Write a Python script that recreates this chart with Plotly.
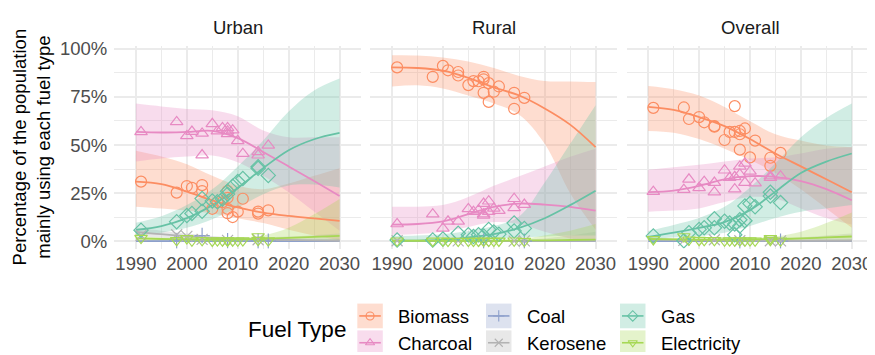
import plotly.graph_objects as go

FONT = "Liberation Sans"

panels = ["Urban", "Rural", "Overall"]
fuels = ["Biomass", "Charcoal", "Coal", "Kerosene", "Gas", "Electricity"]
fuel_colors = ["#FC8D62", "#E78AC3", "#8DA0CB", "#B3B3B3", "#66C2A5", "#A6D854"]
fuel_symbols = ["circle-open", "triangle-up-open", "cross-thin", "x-thin",
                "diamond-open", "triangle-down-open"]

x_ticks = [1990, 2000, 2010, 2020, 2030]
x_minor = [1995, 2005, 2015, 2025]
y_ticks = [0, 25, 50, 75, 100]
y_ticklabels = ["0%", "25%", "50%", "75%", "100%"]
y_minor = [12.5, 37.5, 62.5, 87.5]

fit_years = [1990, 1995, 2000, 2005, 2010, 2015, 2020, 2025, 2030]

# ---------------- Urban ----------------
u_bio_yr = [1991, 1998, 2000, 2001, 2003, 2003, 2005, 2006, 2007, 2008, 2008, 2008, 2008, 2009, 2010, 2011, 2014, 2014, 2016]
u_bio = [31.0, 25.3, 28.7, 27.8, 29.2, 26.1, 16.9, 20.3, 20.3, 26.1, 22.6, 16.9, 14.6, 12.6, 15.4, 22.1, 15.4, 14.4, 16.1]
u_char_yr = [1991, 1998, 2000, 2001, 2003, 2003, 2005, 2006, 2007, 2008, 2008, 2008, 2009, 2010, 2011, 2014, 2014, 2016]
u_char = [56.8, 62.0, 54.7, 57.0, 56.0, 44.8, 61.0, 57.2, 58.9, 58.9, 57.2, 55.8, 57.7, 52.2, 45.5, 46.4, 44.7, 49.8]
u_coal_yr = [1998, 2003, 2008, 2014, 2016]
u_coal = [0.2, 3.0, 0.3, 0.2, 0.1]
u_ker_yr = [1991, 1998, 2000, 2003, 2008, 2014]
u_ker = [3.0, 3.4, 2.6, 1.0, 0.5, 0.8]
u_gas_yr = [1991, 1998, 2000, 2001, 2003, 2003, 2005, 2006, 2007, 2008, 2008, 2009, 2010, 2011, 2014, 2014, 2016]
u_gas = [5.8, 10.2, 13.4, 14.5, 15.6, 22.2, 21.0, 20.5, 22.0, 24.5, 26.0, 28.6, 31.0, 32.6, 38.7, 37.9, 34.2]
u_elec_yr = [1991, 1998, 2000, 2001, 2003, 2005, 2006, 2007, 2008, 2008, 2009, 2010, 2011, 2014, 2014, 2016]
u_elec = [1.7, 0.5, 1.5, 0.3, 0.5, 0.2, 0.4, 0.3, 0.5, 0.2, 0.3, 0.3, 0.4, 2.5, 0.6, 0.4]

u_bio_fit = [31.0, 29.7, 25.8, 21.3, 17.6, 14.9, 13.2, 11.9, 10.6]
u_bio_lo = [18.0, 17.0, 16.0, 14.5, 12.0, 9.5, 6.0, 3.0, 0.5]
u_bio_hi = [47.0, 44.0, 40.0, 34.0, 29.0, 27.0, 30.0, 34.0, 38.0]
u_char_fit = [56.8, 56.5, 56.8, 57.3, 53.6, 46.4, 38.9, 31.3, 23.5]
u_char_lo = [41.5, 43.0, 44.0, 44.5, 41.0, 34.0, 25.5, 15.5, 5.5]
u_char_hi = [71.5, 70.0, 68.7, 68.0, 65.0, 57.5, 54.0, 54.0, 54.0]
u_coal_fit = [0.1, 0.1, 0.1, 0.1, 0.1, 0.1, 0.1, 0.1, 0.1]
u_coal_lo = [0.0, 0.0, 0.0, 0.0, 0.0, 0.0, 0.0, 0.0, 0.0]
u_coal_hi = [0.6, 0.5, 0.5, 0.5, 0.5, 0.6, 0.8, 1.0, 1.3]
u_ker_fit = [4.9, 3.7, 2.7, 1.8, 1.2, 0.9, 0.7, 0.5, 0.3]
u_ker_lo = [2.8, 2.0, 1.4, 0.8, 0.5, 0.2, 0.0, 0.0, 0.0]
u_ker_hi = [7.0, 5.5, 4.0, 2.8, 2.0, 2.0, 2.5, 3.2, 4.0]
u_gas_fit = [5.9, 7.9, 12.0, 18.8, 27.7, 38.0, 47.3, 53.0, 56.3]
u_gas_lo = [3.0, 4.5, 7.0, 11.5, 17.5, 24.5, 29.0, 29.5, 28.0]
u_gas_hi = [9.6, 13.0, 18.8, 27.0, 38.9, 52.3, 67.4, 78.3, 84.5]
u_elec_fit = [1.5, 1.2, 1.0, 0.9, 1.0, 1.3, 1.8, 2.3, 2.8]
u_elec_lo = [0.6, 0.5, 0.4, 0.4, 0.4, 0.3, 0.2, 0.1, 0.0]
u_elec_hi = [2.6, 2.0, 1.8, 1.6, 1.8, 3.0, 7.0, 14.0, 22.0]

# ---------------- Rural ----------------
r_bio_yr = [1991, 1998, 2000, 2001, 2003, 2003, 2005, 2006, 2007, 2008, 2008, 2008, 2009, 2009, 2010, 2011, 2014, 2014, 2016]
r_bio = [90.3, 85.4, 91.1, 88.8, 87.9, 86.1, 81.1, 83.2, 83.1, 85.4, 84.1, 77.1, 82.1, 72.4, 77.7, 80.4, 77.1, 68.8, 74.5]
r_char_yr = [1991, 1998, 2000, 2001, 2003, 2005, 2006, 2007, 2008, 2008, 2008, 2009, 2009, 2010, 2011, 2014, 2014, 2016]
r_char = [9.0, 14.1, 6.7, 10.4, 10.4, 16.8, 15.4, 16.2, 19.6, 14.1, 13.4, 20.8, 15.4, 17.1, 15.9, 22.1, 17.4, 19.1]
r_coal_yr = [2008, 2016]
r_coal = [0.1, 0.1]
r_ker_yr = [1991, 2003, 2008, 2014, 2016]
r_ker = [0.3, 0.2, 0.1, 0.1, 0.2]
r_gas_yr = [1991, 1998, 2000, 2003, 2005, 2006, 2007, 2008, 2009, 2010, 2011, 2014, 2014, 2016]
r_gas = [0.7, 0.7, 1.2, 4.2, 3.4, 2.5, 3.4, 2.8, 6.2, 4.9, 3.7, 9.5, 5.4, 6.7]
r_elec_yr = [1991, 1998, 2000, 2001, 2003, 2005, 2006, 2007, 2008, 2009, 2010, 2011, 2014, 2016]
r_elec = [0.3, 0.2, 0.3, 0.1, 0.1, 0.1, 0.1, 0.1, 0.2, 0.1, 0.1, 0.2, 0.3, 0.1]

r_bio_fit = [90.3, 90.0, 88.6, 84.9, 79.9, 75.7, 69.0, 60.6, 48.9]
r_bio_lo = [80.4, 81.0, 79.4, 75.7, 71.5, 65.7, 50.6, 25.0, 6.0]
r_bio_hi = [96.6, 96.5, 95.5, 93.3, 90.0, 85.8, 83.2, 83.0, 82.7]
r_char_fit = [8.7, 9.0, 10.4, 14.1, 17.9, 19.6, 19.1, 17.9, 15.9]
r_char_lo = [3.4, 3.8, 5.0, 7.5, 10.0, 9.0, 5.0, 1.5, 0.0]
r_char_hi = [17.9, 18.0, 18.8, 23.0, 28.8, 33.8, 38.9, 43.9, 48.1]
r_coal_fit = [0.1, 0.1, 0.1, 0.1, 0.1, 0.1, 0.1, 0.1, 0.1]
r_coal_lo = [0.0, 0.0, 0.0, 0.0, 0.0, 0.0, 0.0, 0.0, 0.0]
r_coal_hi = [0.3, 0.3, 0.3, 0.3, 0.3, 0.4, 0.6, 0.9, 1.2]
r_ker_fit = [0.2, 0.2, 0.2, 0.2, 0.2, 0.2, 0.2, 0.2, 0.2]
r_ker_lo = [0.0, 0.0, 0.0, 0.0, 0.0, 0.0, 0.0, 0.0, 0.0]
r_ker_hi = [0.5, 0.4, 0.4, 0.4, 0.5, 0.8, 1.5, 3.0, 5.0]
r_gas_fit = [0.3, 0.4, 0.7, 2.0, 3.7, 7.0, 12.0, 18.8, 26.3]
r_gas_lo = [0.0, 0.0, 0.0, 0.3, 1.0, 2.0, 2.5, 3.0, 3.0]
r_gas_hi = [2.8, 3.0, 3.7, 5.4, 7.9, 12.9, 30.5, 50.6, 70.7]
r_elec_fit = [0.3, 0.3, 0.3, 0.3, 0.3, 0.4, 0.5, 0.7, 0.9]
r_elec_lo = [0.0, 0.0, 0.0, 0.0, 0.0, 0.0, 0.0, 0.0, 0.0]
r_elec_hi = [0.8, 0.7, 0.7, 0.7, 0.8, 1.2, 3.0, 5.5, 9.0]

# ---------------- Overall ----------------
o_bio_yr = [1991, 1997, 1998, 2000, 2001, 2003, 2003, 2005, 2006, 2007, 2007, 2008, 2008, 2008, 2009, 2010, 2011, 2014, 2014, 2016]
o_bio = [69.3, 69.5, 63.5, 64.5, 61.8, 59.8, 59.5, 52.6, 56.8, 70.2, 56.8, 57.3, 55.6, 47.6, 58.6, 43.6, 52.3, 43.4, 39.2, 45.9]
o_char_yr = [1991, 1997, 1998, 2000, 2001, 2003, 2003, 2005, 2006, 2007, 2007, 2008, 2008, 2009, 2009, 2010, 2011, 2014, 2014, 2016]
o_char = [25.8, 26.8, 32.2, 27.8, 31.0, 30.5, 25.5, 36.9, 33.0, 27.1, 33.5, 38.9, 34.7, 40.5, 30.5, 36.3, 30.2, 33.8, 33.0, 33.8]
o_coal_yr = [2008, 2016]
o_coal = [0.1, 0.1]
o_ker_yr = [1997, 2003, 2008, 2014, 2016]
o_ker = [0.5, 0.8, 0.3, 0.3, 0.2]
o_gas_yr = [1991, 1997, 1998, 2000, 2001, 2003, 2003, 2005, 2006, 2007, 2007, 2008, 2008, 2009, 2009, 2010, 2011, 2014, 2014, 2016]
o_gas = [2.8, 0.3, 4.5, 6.2, 7.0, 11.7, 7.0, 10.4, 9.5, 3.4, 9.0, 11.2, 8.0, 18.4, 10.7, 19.6, 17.9, 25.5, 23.5, 20.1]
o_elec_yr = [1991, 1997, 1998, 2000, 2001, 2003, 2005, 2006, 2007, 2008, 2009, 2010, 2011, 2014, 2014, 2016]
o_elec = [1.0, 2.5, 0.8, 0.6, 0.5, 0.5, 0.3, 0.4, 0.3, 0.4, 0.3, 0.4, 0.3, 1.5, 0.6, 0.3]

o_bio_fit = [69.8, 68.2, 64.5, 59.8, 53.1, 45.6, 38.9, 32.2, 25.5]
o_bio_lo = [57.3, 56.4, 53.1, 48.1, 42.2, 35.5, 27.1, 17.1, 7.0]
o_bio_hi = [80.7, 79.0, 75.7, 69.8, 62.3, 55.6, 52.3, 49.7, 48.9]
o_char_fit = [25.5, 26.3, 28.8, 32.2, 33.8, 33.5, 31.3, 27.1, 21.3]
o_char_lo = [15.4, 16.0, 17.1, 20.4, 23.0, 22.1, 17.1, 12.1, 8.7]
o_char_hi = [37.2, 38.5, 39.7, 41.4, 43.0, 43.6, 45.6, 48.1, 48.9]
o_coal_fit = [0.1, 0.1, 0.1, 0.1, 0.1, 0.1, 0.1, 0.1, 0.1]
o_coal_lo = [0.0, 0.0, 0.0, 0.0, 0.0, 0.0, 0.0, 0.0, 0.0]
o_coal_hi = [0.4, 0.3, 0.3, 0.3, 0.3, 0.4, 0.6, 0.9, 1.2]
o_ker_fit = [1.0, 0.8, 0.6, 0.5, 0.4, 0.3, 0.3, 0.3, 0.3]
o_ker_lo = [0.3, 0.2, 0.1, 0.1, 0.0, 0.0, 0.0, 0.0, 0.0]
o_ker_hi = [2.0, 1.5, 1.2, 1.0, 0.9, 1.2, 2.0, 3.0, 4.0]
o_gas_fit = [2.3, 4.5, 7.0, 10.0, 16.2, 25.8, 35.5, 41.4, 45.6]
o_gas_lo = [1.2, 2.0, 2.8, 4.5, 7.9, 12.1, 15.4, 17.0, 18.8]
o_gas_hi = [5.4, 8.5, 12.1, 17.9, 28.0, 40.5, 54.0, 64.0, 71.5]
o_elec_fit = [1.2, 1.0, 0.9, 0.9, 1.0, 1.2, 1.5, 2.0, 2.5]
o_elec_lo = [0.4, 0.4, 0.3, 0.3, 0.3, 0.3, 0.2, 0.1, 0.0]
o_elec_hi = [2.0, 1.7, 1.5, 1.5, 1.7, 2.5, 5.0, 9.5, 15.0]

data = {
    "Urban": [
        (u_bio_yr, u_bio, u_bio_fit, u_bio_lo, u_bio_hi),
        (u_char_yr, u_char, u_char_fit, u_char_lo, u_char_hi),
        (u_coal_yr, u_coal, u_coal_fit, u_coal_lo, u_coal_hi),
        (u_ker_yr, u_ker, u_ker_fit, u_ker_lo, u_ker_hi),
        (u_gas_yr, u_gas, u_gas_fit, u_gas_lo, u_gas_hi),
        (u_elec_yr, u_elec, u_elec_fit, u_elec_lo, u_elec_hi),
    ],
    "Rural": [
        (r_bio_yr, r_bio, r_bio_fit, r_bio_lo, r_bio_hi),
        (r_char_yr, r_char, r_char_fit, r_char_lo, r_char_hi),
        (r_coal_yr, r_coal, r_coal_fit, r_coal_lo, r_coal_hi),
        (r_ker_yr, r_ker, r_ker_fit, r_ker_lo, r_ker_hi),
        (r_gas_yr, r_gas, r_gas_fit, r_gas_lo, r_gas_hi),
        (r_elec_yr, r_elec, r_elec_fit, r_elec_lo, r_elec_hi),
    ],
    "Overall": [
        (o_bio_yr, o_bio, o_bio_fit, o_bio_lo, o_bio_hi),
        (o_char_yr, o_char, o_char_fit, o_char_lo, o_char_hi),
        (o_coal_yr, o_coal, o_coal_fit, o_coal_lo, o_coal_hi),
        (o_ker_yr, o_ker, o_ker_fit, o_ker_lo, o_ker_hi),
        (o_gas_yr, o_gas, o_gas_fit, o_gas_lo, o_gas_hi),
        (o_elec_yr, o_elec, o_elec_fit, o_elec_lo, o_elec_hi),
    ],
}


def rgba(hex_color, a):
    h = hex_color.lstrip("#")
    r, g, b = int(h[0:2], 16), int(h[2:4], 16), int(h[4:6], 16)
    return f"rgba({r},{g},{b},{a})"


# The page body has an 8px margin: the figure starts at page (8, 8).
OFF = 8
PAGE_W, PAGE_H = 875, 355
W, H = PAGE_W - OFF, PAGE_H - OFF


def px(x):  # page x -> paper fraction
    return (x - OFF) / W


def py(y):  # page y -> paper fraction
    return 1 - (y - OFF) / H


panel_px = [(114.3, 361.2), (370.4, 617.2), (626.6, 873.4)]
y_px = (39.3, 248.2)
x_range = [1985.75, 2034.25]
y_range = [-3.77, 101.25]

fig = go.Figure()

for pi, panel in enumerate(panels):
    xa = "x" if pi == 0 else f"x{pi + 1}"
    ya = "y" if pi == 0 else f"y{pi + 1}"
    series = data[panel]
    for fi, (yr, val, fit, lo, hi) in enumerate(series):
        c = fuel_colors[fi]
        fig.add_trace(go.Scatter(x=fit_years, y=lo, mode="lines",
                                 line=dict(width=0, shape="spline", color=c),
                                 xaxis=xa, yaxis=ya, showlegend=False, hoverinfo="skip"))
        fig.add_trace(go.Scatter(x=fit_years, y=hi, mode="lines", fill="tonexty",
                                 fillcolor=rgba(c, 0.3),
                                 line=dict(width=0, shape="spline", color=c),
                                 xaxis=xa, yaxis=ya, showlegend=False, hoverinfo="skip"))
    for fi, (yr, val, fit, lo, hi) in enumerate(series):
        c = fuel_colors[fi]
        fig.add_trace(go.Scatter(x=fit_years, y=fit, mode="lines",
                                 line=dict(width=1.8, shape="spline", color=c),
                                 xaxis=xa, yaxis=ya, showlegend=False))
    for fi, (yr, val, fit, lo, hi) in enumerate(series):
        c = fuel_colors[fi]
        fig.add_trace(go.Scatter(x=yr, y=val, mode="markers",
                                 marker=dict(symbol=fuel_symbols[fi], size=11, color=c,
                                             line=dict(width=1.2, color=c)),
                                 xaxis=xa, yaxis=ya, showlegend=False, name=fuels[fi]))

grid = "#EBEBEB"
tickfont = dict(family=FONT, size=18.5, color="#4D4D4D")
layout_axes = {}
for pi in range(3):
    x0, x1 = panel_px[pi]
    xname = "xaxis" if pi == 0 else f"xaxis{pi + 1}"
    yname = "yaxis" if pi == 0 else f"yaxis{pi + 1}"
    layout_axes[xname] = dict(
        domain=[px(x0), min(px(x1), 1.0)], range=x_range, tickvals=x_ticks,
        showgrid=True, gridcolor=grid, gridwidth=1.9, zeroline=False, showline=False,
        ticks="", tickfont=tickfont, ticklabelstandoff=2,
        anchor=("y" if pi == 0 else f"y{pi + 1}"),
        minor=dict(tickvals=x_minor, showgrid=True, gridcolor=grid, gridwidth=1.1, ticks=""),
        fixedrange=True,
    )
    layout_axes[yname] = dict(
        domain=[py(y_px[1]), py(y_px[0])], range=y_range, tickvals=y_ticks,
        ticktext=y_ticklabels, showticklabels=(pi == 0),
        showgrid=True, gridcolor=grid, gridwidth=1.9, zeroline=False, showline=False,
        ticks="", tickfont=tickfont, ticklabelstandoff=6,
        anchor=("x" if pi == 0 else f"x{pi + 1}"),
        minor=dict(tickvals=y_minor, showgrid=True, gridcolor=grid, gridwidth=1.1, ticks=""),
        fixedrange=True,
    )

# overlay axis in page-pixel coordinates for the legend keys
layout_axes["xaxis4"] = dict(domain=[0, 1], range=[OFF, PAGE_W], visible=False,
                             fixedrange=True, anchor="y4")
layout_axes["yaxis4"] = dict(domain=[0, 1], range=[PAGE_H, OFF], visible=False,
                             fixedrange=True, anchor="x4")

annotations = []
for pi, panel in enumerate(panels):
    cx = (panel_px[pi][0] + panel_px[pi][1]) / 2
    annotations.append(dict(text=panel, x=px(cx), y=py(20), xref="paper", yref="paper",
                            showarrow=False, xanchor="center", yanchor="middle",
                            font=dict(family=FONT, size=18.5, color="#1A1A1A")))

annotations.append(dict(text="Percentage of the population<br>mainly using each fuel type",
                        x=px(31), y=py(143.7), xref="paper", yref="paper", textangle=-90,
                        showarrow=False, xanchor="center", yanchor="middle",
                        font=dict(family=FONT, size=18.5, color="#000000")))

annotations.append(dict(text="Fuel Type", x=px(246.0), y=py(332), xref="paper", yref="paper",
                        showarrow=False, xanchor="left", yanchor="middle",
                        font=dict(family=FONT, size=22.5, color="#000000")))

legend_cols = [357.3, 486.0, 620.0]
legend_rows = [305.0, 332.7]
key_w = 25.5
shapes = []
for fi, fuel in enumerate(fuels):
    col, row = fi // 2, fi % 2
    bx, by = legend_cols[col], legend_rows[row]
    c = fuel_colors[fi]
    cy = by + key_w / 2
    shapes.append(dict(type="rect", xref="x4", yref="y4", x0=bx, x1=bx + key_w, y0=by, y1=by + key_w,
                       fillcolor=rgba(c, 0.3), line=dict(width=0), layer="below"))
    shapes.append(dict(type="line", xref="x4", yref="y4", x0=bx + 2, x1=bx + key_w - 2, y0=cy, y1=cy,
                       line=dict(color=c, width=1.6), layer="below"))
    fig.add_trace(go.Scatter(x=[bx + key_w / 2], y=[cy], mode="markers",
                             marker=dict(symbol=fuel_symbols[fi], size=8, color=c,
                                         line=dict(width=1.1, color=c)),
                             xaxis="x4", yaxis="y4", showlegend=False, hoverinfo="skip"))
    annotations.append(dict(text=fuel, x=px(bx + key_w + 13.5), y=py(cy + 0.5),
                            xref="paper", yref="paper", showarrow=False,
                            xanchor="left", yanchor="middle",
                            font=dict(family=FONT, size=18.5, color="#000000")))

fig.update_layout(
    width=W, height=H,
    margin=dict(l=0, r=0, t=0, b=0),
    paper_bgcolor="white", plot_bgcolor="rgba(0,0,0,0)",
    showlegend=False,
    font=dict(family=FONT),
    annotations=annotations, shapes=shapes,
    **layout_axes,
)

fig.write_html("out.html")
